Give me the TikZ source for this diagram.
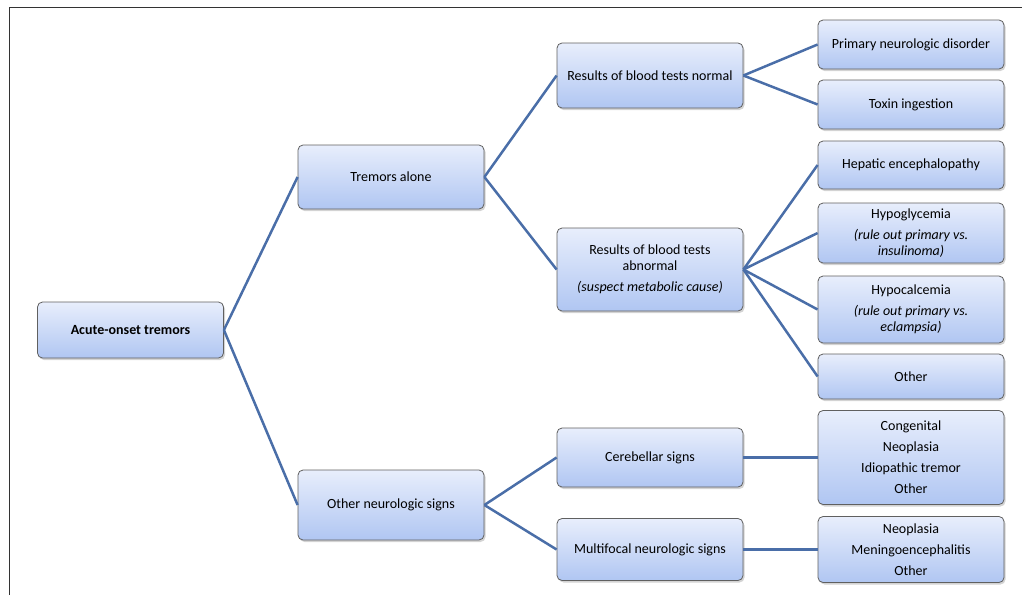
\documentclass[tikz,border=0pt]{standalone}
\usepackage{fontspec}
\setmainfont{Carlito}
\usetikzlibrary{shadows}
\definecolor{boxtop}{RGB}{232,238,252}
\definecolor{boxbot}{RGB}{176,198,242}
\definecolor{linkblue}{RGB}{74,110,168}
\begin{document}
\begin{tikzpicture}[x=1pt,y=-1pt,
  box/.style={draw=gray!75!black, line width=0.8pt, rounded corners=5pt, top color=boxtop, bottom color=boxbot,
    drop shadow={shadow xshift=1.5pt, shadow yshift=-2pt, opacity=0.35}, minimum width=186pt, align=center,
    font=\fontsize{14}{16}\selectfont, inner sep=2pt},
  link/.style={draw=linkblue, line width=2.5pt}]
\useasboundingbox (0,0) rectangle (1023,595);
\draw [black!80, line width=1pt] (9,595) -- (9,7) -- (1022,7);
% first and second column
\node [box, minimum height=56pt, font=\fontsize{14}{16}\selectfont\bfseries] (acute) at (130.5,330) {Acute-onset tremors};
\node [box, minimum height=64pt] (alone) at (391,177) {Tremors alone};
\node [box, minimum height=70pt] (neuro) at (391,505) {Other neurologic signs};
% third column
\node [box, minimum height=65pt] (normal) at (650,75.5) {Results of blood tests normal};
\node [box, minimum height=83pt] (abnormal) at (650,269.5) {Results of blood tests\\abnormal\\[5pt]\textit{(suspect metabolic cause)}};
\node [box, minimum height=59pt] (cereb) at (650,457.5) {Cerebellar signs};
\node [box, minimum height=62pt] (multi) at (650,549.5) {Multifocal neurologic signs};
% fourth column
\node [box, minimum height=49pt] (primary) at (911,44.5) {Primary neurologic disorder};
\node [box, minimum height=49pt] (toxin) at (911,104.5) {Toxin ingestion};
\node [box, minimum height=48pt] (hepatic) at (911,165) {Hepatic encephalopathy};
\node [box, minimum height=60pt] (hypogly) at (911,233) {Hypoglycemia\\[5pt]\textit{(rule out primary vs.}\\\textit{insulinoma)}};
\node [box, minimum height=67pt] (hypocal) at (911,309.5) {Hypocalcemia\\[5pt]\textit{(rule out primary vs.}\\\textit{eclampsia)}};
\node [box, minimum height=45pt] (othermet) at (911,376.5) {Other};
\node [box, minimum height=94pt] (congen) at (911,457.5) {Congenital\\[5pt]Neoplasia\\[5pt]Idiopathic tremor\\[5pt]Other};
\node [box, minimum height=66pt] (neomulti) at (911,549.5) {Neoplasia\\[5pt]Meningoencephalitis\\[5pt]Other};
% connectors
\draw [link] (acute.east) -- (alone.west);
\draw [link] (acute.east) -- (neuro.west);
\draw [link] (alone.east) -- (normal.west);
\draw [link] (alone.east) -- (abnormal.west);
\draw [link] (neuro.east) -- (cereb.west);
\draw [link] (neuro.east) -- (multi.west);
\draw [link] (normal.east) -- (primary.west);
\draw [link] (normal.east) -- (toxin.west);
\draw [link] (abnormal.east) -- (hepatic.west);
\draw [link] (abnormal.east) -- (hypogly.west);
\draw [link] (abnormal.east) -- (hypocal.west);
\draw [link] (abnormal.east) -- (othermet.west);
\draw [link] (cereb.east) -- (congen.west);
\draw [link] (multi.east) -- (neomulti.west);
\end{tikzpicture}
\end{document}
